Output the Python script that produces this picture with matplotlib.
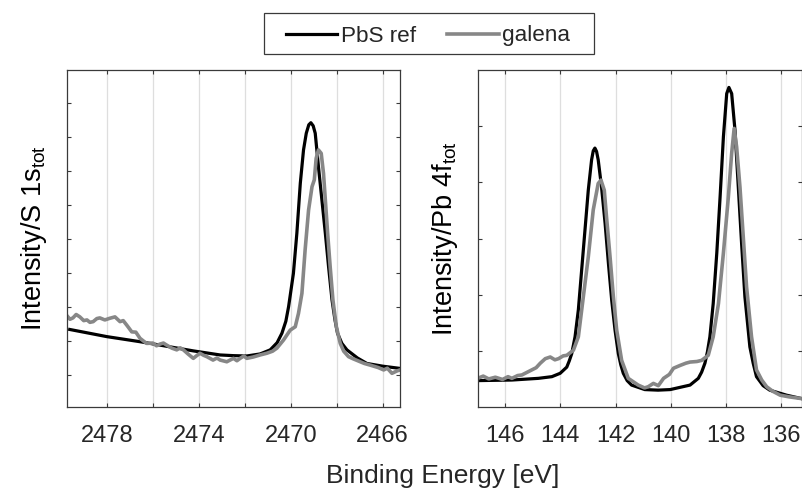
import numpy as np
import matplotlib
matplotlib.use("Agg")
import matplotlib.pyplot as plt
from matplotlib.lines import Line2D
from matplotlib.patches import Rectangle

plt.rcParams.update({
    "font.family": ["Liberation Sans", "DejaVu Sans"],
    "mathtext.default": "regular",
    "axes.edgecolor": "#3a3a3a",
    "xtick.color": "#3a3a3a",
    "ytick.color": "#3a3a3a",
    "xtick.labelcolor": "#262626",
    "text.color": "#262626",
})

# S 1s region (binding energy in eV, normalised intensity)
s_ref_E = [2479.63, 2478.02, 2476.57, 2475.70, 2474.25, 2473.08, 2472.50, 2471.92, 2471.34,
           2470.90, 2470.60, 2470.39, 2470.22, 2470.10, 2469.89, 2469.74, 2469.59, 2469.45,
           2469.33, 2469.22, 2469.13, 2469.03, 2468.94, 2468.80, 2468.65, 2468.50, 2468.36,
           2468.21, 2468.08, 2467.97, 2467.78, 2467.56, 2467.10, 2466.69, 2466.00, 2465.31]
s_ref_I = [1.34, 1.13, 0.98, 0.88, 0.71, 0.59, 0.57, 0.56, 0.62,
           0.74, 0.95, 1.23, 1.58, 2.01, 2.99, 4.17, 5.64, 6.62,
           7.11, 7.36, 7.42, 7.33, 7.11, 6.13, 5.15, 4.17, 3.19,
           2.21, 1.62, 1.23, 0.93, 0.74, 0.50, 0.34, 0.26, 0.20]

s_gal_E = [2479.77, 2479.62, 2479.49, 2479.35, 2479.19, 2479.02, 2478.88, 2478.75, 2478.61, 2478.45,
           2478.32, 2478.10, 2477.88, 2477.66, 2477.44, 2477.30, 2477.15, 2477.05, 2476.93, 2476.75,
           2476.57, 2476.42, 2476.28, 2476.01, 2475.85, 2475.70, 2475.55, 2475.41, 2475.18, 2474.97,
           2474.82, 2474.68, 2474.48, 2474.25, 2474.10, 2473.96, 2473.80, 2473.66, 2473.39, 2473.22,
           2473.08, 2472.79, 2472.62, 2472.50, 2472.35, 2472.21, 2472.05, 2471.92, 2471.64, 2471.34,
           2471.05, 2470.80, 2470.61, 2470.32, 2470.03, 2469.81, 2469.67, 2469.52, 2469.38, 2469.23,
           2469.08, 2468.98, 2468.90, 2468.80, 2468.68, 2468.58, 2468.50, 2468.40, 2468.29, 2468.17,
           2468.02, 2467.85, 2467.70, 2467.49, 2467.30, 2466.98, 2466.80, 2466.54, 2466.20, 2465.96,
           2465.80, 2465.60, 2465.38, 2465.25]
s_gal_I = [1.76, 1.64, 1.68, 1.78, 1.71, 1.60, 1.62, 1.55, 1.57, 1.66,
           1.68, 1.62, 1.67, 1.71, 1.57, 1.60, 1.47, 1.38, 1.27, 1.26,
           1.08, 1.00, 0.93, 0.94, 0.86, 0.91, 0.94, 0.88, 0.79, 0.74,
           0.80, 0.74, 0.62, 0.49, 0.57, 0.64, 0.58, 0.54, 0.44, 0.50,
           0.44, 0.39, 0.45, 0.49, 0.42, 0.49, 0.56, 0.49, 0.53, 0.59,
           0.64, 0.70, 0.79, 1.03, 1.32, 1.42, 1.81, 2.40, 3.68, 4.85,
           5.54, 5.74, 6.37, 6.62, 6.52, 5.93, 5.15, 4.17, 3.19, 2.21,
           1.42, 0.93, 0.70, 0.54, 0.48, 0.39, 0.34, 0.29, 0.22, 0.15,
           0.20, 0.05, 0.12, 0.15]

# Pb 4f region
pb_ref_E = [146.97, 145.76, 144.80, 144.31, 144.01, 143.77, 143.68, 143.59, 143.47, 143.35,
            143.23, 143.11, 142.99, 142.87, 142.81, 142.75, 142.69, 142.63, 142.51, 142.38,
            142.26, 142.14, 142.02, 141.90, 141.81, 141.72, 141.58, 141.42, 140.94, 140.46,
            140.02, 139.30, 139.00, 138.88, 138.76, 138.67, 138.58, 138.46, 138.33, 138.21,
            138.09, 137.97, 137.89, 137.79, 137.67, 137.55, 137.43, 137.31, 137.13, 137.01,
            136.89, 136.65, 136.41, 135.80, 135.26]
pb_ref_I = [-0.53, -0.52, -0.49, -0.46, -0.40, -0.29, -0.18, -0.05, 0.25, 0.73,
            1.44, 2.15, 2.86, 3.40, 3.56, 3.61, 3.55, 3.40, 2.92, 2.27,
            1.56, 0.90, 0.37, -0.05, -0.25, -0.40, -0.53, -0.61, -0.69, -0.70,
            -0.69, -0.61, -0.49, -0.38, -0.22, -0.02, 0.25, 0.84, 1.74, 2.74,
            3.81, 4.58, 4.69, 4.58, 3.93, 2.92, 1.91, 0.96, 0.07, -0.22,
            -0.46, -0.62, -0.70, -0.79, -0.85]

pb_gal_E = [147.00, 146.80, 146.60, 146.36, 146.10, 145.90, 145.76, 145.55, 145.40, 145.20,
            145.04, 144.88, 144.73, 144.55, 144.37, 144.20, 144.07, 143.90, 143.77, 143.53,
            143.35, 143.17, 142.99, 142.81, 142.63, 142.53, 142.41, 142.33, 142.20, 142.08,
            141.96, 141.78, 141.54, 141.18, 140.95, 140.82, 140.63, 140.45, 140.26, 140.05,
            139.90, 139.66, 139.45, 139.30, 139.05, 138.88, 138.64, 138.46, 138.27, 138.09,
            137.91, 137.79, 137.70, 137.61, 137.49, 137.37, 137.25, 137.07, 136.89, 136.70,
            136.52, 136.30, 136.03, 135.70, 135.26]
pb_gal_I = [-0.49, -0.45, -0.50, -0.47, -0.51, -0.46, -0.49, -0.44, -0.43, -0.38,
            -0.34, -0.30, -0.22, -0.14, -0.11, -0.16, -0.14, -0.09, -0.08, 0.01,
            0.25, 0.96, 1.67, 2.51, 2.98, 3.04, 2.86, 2.39, 1.67, 0.96,
            0.37, -0.17, -0.49, -0.61, -0.66, -0.64, -0.58, -0.62, -0.49, -0.42,
            -0.31, -0.26, -0.22, -0.20, -0.19, -0.17, -0.08, 0.25, 0.84, 1.74,
            2.74, 3.52, 3.96, 3.63, 2.92, 2.03, 1.14, 0.25, -0.34, -0.52,
            -0.64, -0.72, -0.79, -0.82, -0.85]

left_xticks = [2478, 2476, 2474, 2472, 2470, 2468, 2466]
left_xlabels = ["2478", "", "2474", "", "2470", "", "2466"]
right_xticks = [146, 144, 142, 140, 138, 136]

c_ref = "#000000"
c_gal = "#878787"

fig = plt.figure(figsize=(8.03, 4.91), dpi=100)
ax1 = fig.add_axes([0.0834, 0.1711, 0.4147, 0.6863])
ax2 = fig.add_axes([0.5949, 0.1711, 0.4035, 0.6863])

ax1.plot(s_ref_E, s_ref_I, color=c_ref, lw=2.3, solid_joinstyle="round")
ax1.plot(s_gal_E, s_gal_I, color=c_gal, lw=2.6, solid_joinstyle="round")
ax2.plot(pb_ref_E, pb_ref_I, color=c_ref, lw=2.3, solid_joinstyle="round")
ax2.plot(pb_gal_E, pb_gal_I, color=c_gal, lw=2.6, solid_joinstyle="round")

ax1.set_xlim(2479.75, 2465.25)
ax1.set_ylim(-0.94, 8.97)
ax1.set_xticks(left_xticks)
ax1.set_xticklabels(left_xlabels)
ax1.set_yticks(range(0, 9))

ax2.set_xlim(147.0, 135.25)
ax2.set_ylim(-1, 5)
ax2.set_xticks(right_xticks)
ax2.set_yticks(range(0, 5))

for ax in (ax1, ax2):
    ax.grid(True, axis="x", color="#dedede", lw=0.9)
    ax.set_axisbelow(True)
    ax.tick_params(direction="in", length=3, width=0.8, top=True, right=True,
                   labelleft=False, labelsize=17, pad=13)
    for sp in ax.spines.values():
        sp.set_linewidth(0.9)

ax1.set_ylabel(r"Intensity/S 1s$_{tot}$", fontsize=19.5)
ax1.yaxis.set_label_coords(-0.055, 0.5)
ax2.set_ylabel(r"Intensity/Pb 4f$_{tot}$", fontsize=19.5)
ax2.yaxis.set_label_coords(-0.055, 0.5)

fig.text(443 / 803, 1 - 483 / 491, "Binding Energy [eV]", fontsize=19,
         ha="center", va="baseline")

handles = [Line2D([], [], color=c_ref, lw=2.3), Line2D([], [], color=c_gal, lw=2.6)]
leg = fig.legend(handles, ["PbS ref", "galena"], loc="center",
                 bbox_to_anchor=(428 / 803, 1 - 36 / 491), ncol=2, fontsize=16.2,
                 frameon=False, handlelength=2.3,
                 handletextpad=0.15, columnspacing=1.4)
fig.patches.append(Rectangle((264 / 803, 1 - 54 / 491), 330 / 803, 41 / 491,
                             transform=fig.transFigure, fill=False,
                             edgecolor="#3a3a3a", lw=0.9))

fig.savefig("out.png", dpi=100)
